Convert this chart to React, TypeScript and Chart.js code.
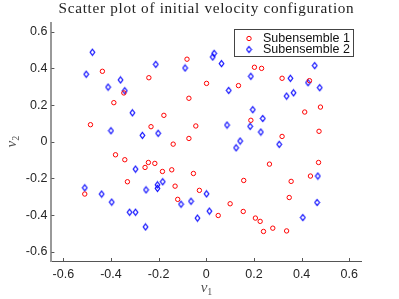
import React, { useEffect, useRef } from "react";
import { Chart, registerables } from "chart.js";
Chart.register(...registerables);

const titleText = "Scatter plot of initial velocity configuration";
const seriesLabels = ["Subensemble 1", "Subensemble 2"];
const xAxisLabel = ["v", "1"];
const yAxisLabel = ["v", "2"];
const tickValues = [-0.6, -0.4, -0.2, 0, 0.2, 0.4, 0.6];
const axisMin = -0.65;
const axisMax = 0.65;

const s1x = [-0.436, -0.388, -0.346, -0.486, -0.241, -0.178, -0.232, -0.081, -0.073, -0.044, -0.073, -0.139, 0.001, 0.202, 0.232, 0.135, 0.318, 0.433, 0.479, 0.413, 0.187, 0.473, 0.318, -0.381, -0.342, -0.243, -0.257, -0.216, -0.184, -0.145, -0.331, -0.131, -0.054, -0.029, -0.12, -0.51, 0.265, 0.471, 0.437, 0.356, 0.157, 0.348, 0.1, 0.155, 0.05, 0.206, 0.226, 0.24, 0.279, 0.337];
const s1y = [0.384, 0.213, 0.266, 0.093, 0.349, 0.144, 0.082, 0.45, 0.237, 0.086, 0.018, -0.013, 0.318, 0.406, 0.4, 0.306, 0.346, 0.333, 0.189, 0.162, 0.117, 0.057, 0.029, -0.071, -0.098, -0.113, -0.14, -0.118, -0.162, -0.153, -0.218, -0.242, -0.173, -0.265, -0.314, -0.285, -0.122, -0.113, -0.187, -0.216, -0.211, -0.304, -0.338, -0.38, -0.402, -0.416, -0.434, -0.489, -0.471, -0.486];
const s2x = [-0.478, -0.504, -0.412, -0.36, -0.342, -0.31, -0.4, -0.268, -0.212, -0.202, -0.089, 0.033, 0.027, 0.064, 0.187, 0.094, 0.353, 0.427, 0.455, 0.476, 0.366, 0.337, 0.195, 0.237, 0.087, 0.184, 0.229, 0.142, 0.125, 0.306, -0.51, -0.439, -0.397, -0.322, -0.297, -0.255, -0.297, -0.253, -0.205, -0.205, -0.183, -0.106, -0.064, -0.037, 0.001, 0.468, 0.465, 0.405, 0.013];
const s2y = [0.488, 0.368, 0.298, 0.337, 0.278, 0.158, 0.06, 0.035, 0.422, 0.046, 0.402, 0.482, 0.462, 0.426, 0.357, 0.28, 0.346, 0.322, 0.415, 0.295, 0.267, 0.249, 0.175, 0.127, 0.091, 0.084, 0.053, 0.004, -0.033, -0.014, -0.251, -0.285, -0.329, -0.384, -0.384, -0.464, -0.149, -0.262, -0.235, -0.254, -0.218, -0.34, -0.324, -0.416, -0.284, -0.187, -0.331, -0.413, -0.378];

const RED = "rgb(255,0,0)";
const BLUE = "rgb(0,0,255)";

function makeDiamond(): HTMLCanvasElement {
  const c = document.createElement("canvas");
  c.width = 7;
  c.height = 9;
  const g = c.getContext("2d")!;
  g.strokeStyle = BLUE;
  g.lineWidth = 1.15;
  g.beginPath();
  g.moveTo(3.5, 1.5);
  g.lineTo(5.8, 4.5);
  g.lineTo(3.5, 7.5);
  g.lineTo(1.2, 4.5);
  g.closePath();
  g.stroke();
  return c;
}

export default function App() {
  const ref = useRef<HTMLCanvasElement>(null);
  useEffect(() => {
    const diamond = makeDiamond();
    const decor = {
      id: "decor",
      afterDraw(chart: any) {
        const { ctx, chartArea: a, scales } = chart;
        const x = scales.x;
        const y = scales.y;
        ctx.save();
        // title
        ctx.fillStyle = "#222";
        ctx.font = "15.2px 'Liberation Serif'";
        (ctx as any).letterSpacing = "0.7px";
        ctx.textAlign = "center";
        ctx.textBaseline = "alphabetic";
        ctx.fillText(titleText, 206.5, 13);
        (ctx as any).letterSpacing = "0px";

        // inward tick marks
        ctx.strokeStyle = "#555";
        ctx.lineWidth = 1;
        ctx.beginPath();
        tickValues.forEach((v) => {
          const px = Math.round(x.getPixelForValue(v)) + 0.5;
          ctx.moveTo(px, a.bottom);
          ctx.lineTo(px, a.bottom - 3);
          const py = Math.round(y.getPixelForValue(v)) + 0.5;
          ctx.moveTo(a.left, py);
          ctx.lineTo(a.left + 3, py);
        });
        ctx.stroke();

        // axis labels
        ctx.fillStyle = "#555";
        const cx = (a.left + a.right) / 2;
        ctx.font = "italic 15px 'Liberation Serif'";
        ctx.textAlign = "right";
        ctx.fillText(xAxisLabel[0], cx + 1, 292);
        ctx.font = "10px 'Liberation Serif'";
        ctx.textAlign = "left";
        ctx.fillText(xAxisLabel[1], cx + 1, 295);

        ctx.save();
        ctx.translate(16, (a.top + a.bottom) / 2);
        ctx.rotate(-Math.PI / 2);
        ctx.font = "italic 15px 'Liberation Serif'";
        ctx.textAlign = "right";
        ctx.fillText(yAxisLabel[0], 1, 0);
        ctx.font = "10px 'Liberation Serif'";
        ctx.textAlign = "left";
        ctx.fillText(yAxisLabel[1], 1, 3);
        ctx.restore();

        // legend
        const lx = 234.5, ly = 29.5, lw = 119, lh = 27;
        ctx.fillStyle = "#fff";
        ctx.fillRect(lx, ly, lw, lh);
        ctx.strokeStyle = "#444";
        ctx.lineWidth = 1;
        ctx.strokeRect(lx, ly, lw, lh);
        const rows = [38.5, 49.5];
        ctx.font = "12.5px 'Liberation Sans'";
        ctx.textAlign = "left";
        ctx.textBaseline = "middle";
        rows.forEach((ry, i) => {
          if (i === 0) {
            ctx.strokeStyle = RED;
            ctx.beginPath();
            ctx.arc(249, ry, 2.2, 0, Math.PI * 2);
            ctx.stroke();
          } else {
            ctx.drawImage(diamond, 249 - 3.5, ry - 4.5);
          }
          ctx.fillStyle = "#111";
          ctx.fillText(seriesLabels[i], 263, ry + 0.5);
        });
        ctx.restore();
      },
    };

    const fmt = (v: number) => (Math.abs(v) < 1e-9 ? "0" : v.toFixed(1));
    const chart = new Chart(ref.current!, {
      type: "scatter",
      data: {
        datasets: [
          {
            label: seriesLabels[0],
            data: s1x.map((v, i) => ({ x: v, y: s1y[i] })),
            pointStyle: "circle",
            pointRadius: 2.2,
            pointBorderWidth: 1,
            borderColor: RED,
            backgroundColor: "rgba(0,0,0,0)",
          },
          {
            label: seriesLabels[1],
            data: s2x.map((v, i) => ({ x: v, y: s2y[i] })),
            pointStyle: diamond as any,
            pointRadius: 3,
            borderColor: BLUE,
            backgroundColor: "rgba(0,0,0,0)",
          },
        ],
      },
      options: {
        responsive: false,
        animation: false,
        layout: { padding: { top: 22.5, right: 37.8, left: 0, bottom: 0 } },
        plugins: {
          legend: { display: false },
          tooltip: { enabled: false },
          title: { display: false },
        },
        scales: {
          x: {
            type: "linear",
            min: axisMin,
            max: axisMax,
            afterBuildTicks: (s: any) => {
              s.ticks = tickValues.map((v) => ({ value: v }));
            },
            afterFit: (s: any) => {
              s.height = 38;
            },
            grid: { display: true, drawOnChartArea: false, drawTicks: false },
            border: { display: true, color: "#555", width: 1 },
            ticks: {
              padding: 6,
              color: "#262626",
              font: { family: "'Liberation Sans'", size: 12.5 },
              callback: (v: any) => fmt(Number(v)),
              maxRotation: 0,
            },
          },
          y: {
            type: "linear",
            min: axisMin,
            max: axisMax,
            afterBuildTicks: (s: any) => {
              s.ticks = tickValues.map((v) => ({ value: v }));
            },
            afterFit: (s: any) => {
              s.width = 51.4;
            },
            grid: { display: true, drawOnChartArea: false, drawTicks: false },
            border: { display: true, color: "#999", width: 2 },
            ticks: {
              padding: 4,
              color: "#262626",
              font: { family: "'Liberation Sans'", size: 12.5 },
              callback: (v: any) => fmt(Number(v)),
            },
          },
        },
      },
      plugins: [decor],
    } as any);
    return () => chart.destroy();
  }, []);
  return (
    <div style={{ position: "fixed", left: 0, top: 0, width: 399, height: 299, background: "#fff" }}>
      <canvas ref={ref} width={399} height={299} />
    </div>
  );
}
